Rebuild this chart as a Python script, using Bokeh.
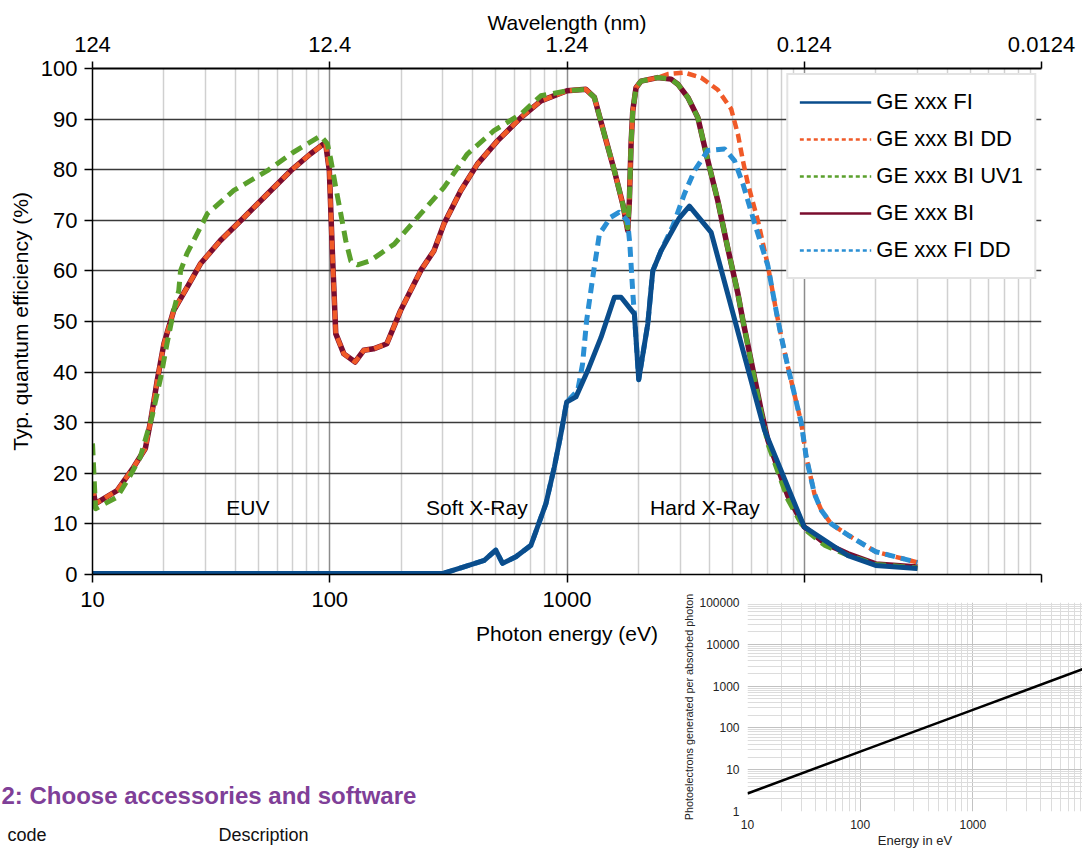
from bokeh.plotting import figure
from bokeh.models import Range1d, FixedTicker, LogAxis, Legend, LegendItem
from bokeh.layouts import column, row
from bokeh.embed import file_html
from bokeh.resources import INLINE
from bokeh.core.properties import value

FONT = "Liberation Sans"

# ---------------- data ----------------
decades = [10, 100, 1000, 10000, 100000]
energy_labels = ["10", "100", "1000", "", ""]
wavelength_labels = ["124", "12.4", "1.24", "0.124", "0.0124"]
qe_ticks = [0, 10, 20, 30, 40, 50, 60, 70, 80, 90, 100]

series_names = ["GE xxx FI", "GE xxx BI DD", "GE xxx BI UV1", "GE xxx BI", "GE xxx FI DD"]

fi_e = [10, 300, 368, 448, 501, 535, 609, 705, 815, 884, 943, 997, 1091, 1223, 1392, 1584,
        1690, 1923, 2006, 2190, 2299, 2493, 2978, 3281, 4051, 6800, 10000, 15200, 20000, 30000]
fi_qe = [0.2, 0.2, 1.5, 2.8, 4.8, 2.2, 3.5, 5.8, 14.0, 21.2, 27.8, 34.1, 35.1, 40.3, 46.9, 54.8,
         54.8, 51.5, 38.5, 49.5, 60.0, 64.0, 70.5, 72.8, 67.6, 28.5, 9.4, 3.8, 1.8, 1.2]

fidd_e = [10, 300, 368, 448, 501, 535, 609, 705, 815, 884, 943, 997, 1110, 1163, 1210, 1284,
          1370, 1530, 1660, 1800, 1840, 1895, 1923, 2006, 2190, 2299, 2493, 2800, 3125, 3444,
          3923, 4610, 5080, 5513, 6170, 7029, 7620, 8000, 8534, 9712, 10195, 11030, 11800,
          13000, 15290, 20000, 30000]
fidd_qe = [0.2, 0.2, 1.5, 2.8, 4.8, 2.2, 3.5, 5.8, 14.0, 21.2, 27.8, 34.1, 36.4, 41.6, 50.2, 58.7,
           67.3, 70.6, 71.6, 69.9, 65.3, 55.5, 51.5, 38.5, 49.5, 60.0, 64.0, 69.0, 75.2, 79.8,
           83.8, 84.1, 81.8, 77.2, 69.5, 61.0, 52.0, 47.0, 41.0, 30.0, 23.2, 16.0, 12.7,
           10.0, 7.8, 4.5, 2.4]

bi_e = [10, 10.3, 12.7, 14.9, 16.7, 17.6, 18.75, 20, 22, 25.5, 28.5, 34.6, 42.1, 54.6, 68.5,
        82.8, 93, 96, 99.6, 102.9, 106, 114.7, 128, 139, 153, 174, 199, 242, 275, 303, 357,
        419, 509, 639, 776, 1000, 1200, 1304, 1437, 1584, 1718, 1803, 1832, 1862, 1893, 1954,
        2051, 2413, 2746, 2932, 3230, 3560, 3923, 4320, 4750, 5253, 5513, 6585, 7029, 8534,
        10000, 12180, 15290, 20000, 30000]
bi_qe = [17.3, 14.0, 16.6, 21.2, 24.9, 30.5, 38.4, 45.6, 52.2, 57.4, 61.4, 66.0, 69.9, 75.2, 79.8,
         83.1, 84.9, 85.3, 79.8, 62.0, 47.6, 43.6, 42.0, 44.3, 44.6, 45.6, 52.2, 60.1, 64.0, 69.3, 75.9,
         81.1, 85.7, 90.3, 93.6, 95.6, 95.9, 94.3, 87.0, 79.8, 73.2, 68.0, 73.9, 85.0, 91.6, 96.2,
         97.5, 98.2, 97.9, 96.9, 94.3, 90.3, 81.8, 73.9, 64.7, 55.5, 50.2, 32.4, 26.5, 15.5,
         9.4, 6.2, 4.1, 2.1, 1.5]

bidd_e = [10, 10.3, 12.7, 14.9, 16.7, 17.6, 18.75, 20, 22, 25.5, 28.5, 34.6, 42.1, 54.6, 68.5,
          82.8, 93, 96, 99.6, 102.9, 106, 114.7, 128, 139, 153, 174, 199, 242, 275, 303, 357,
          419, 509, 639, 776, 1000, 1200, 1304, 1437, 1584, 1718, 1803, 1832, 1862, 1893, 1954,
          2051, 2413, 2660, 3125, 3677, 4320, 4920, 5253, 5513, 5787, 6378, 7029, 7620, 8000,
          8534, 9712, 10195, 11030, 11800, 13000, 15290, 20000, 30000]
bidd_qe = [17.3, 14.0, 16.6, 21.2, 24.9, 30.5, 38.4, 45.6, 52.2, 57.4, 61.4, 66.0, 69.9, 75.2, 79.8,
           83.1, 84.9, 85.3, 79.8, 62.0, 47.6, 43.6, 42.0, 44.3, 44.6, 45.6, 52.2, 60.1, 64.0, 69.3, 75.9,
           81.1, 85.7, 90.3, 93.6, 95.6, 95.9, 94.3, 87.0, 79.8, 73.2, 68.0, 73.9, 85.0, 91.6, 96.2,
           97.5, 98.2, 98.9, 99.2, 98.2, 95.8, 92.0, 87.0, 81.8, 77.2, 69.9, 61.0, 52.0, 47.0,
           41.0, 30.0, 23.2, 16.0, 12.7, 10.0, 7.8, 4.5, 2.4]

uv1_e = [10, 10.3, 12.7, 14.2, 15.9, 17.8, 19.4, 20.6, 22, 23.1, 23.5, 25, 30.5, 39.4, 54.6, 70,
         91.6, 97.8, 101, 106, 111.3, 116.8, 122.7, 131, 148, 187, 242, 303, 380, 492, 639, 776,
         1000, 1200, 1304, 1437, 1584, 1718, 1803, 1832, 1862, 1893, 1954, 2051, 2413, 2746,
         2932, 3230, 3560, 3923, 4320, 4750, 5253, 5513, 6585, 7029, 8534, 10000, 12180, 15290,
         20000, 30000]
uv1_qe = [25.9, 13.0, 15.3, 19.0, 23.2, 31.1, 39.0, 45.6, 52.2, 56.1, 60.0, 63.4, 71.3, 75.9, 79.8, 83.4,
          86.7, 85.1, 82.0, 76.5, 71.3, 66.0, 62.0, 61.2, 62.0, 65.3, 71.3, 76.5, 83.1, 87.7, 91.0, 94.6,
          95.6, 95.9, 94.3, 87.0, 79.8, 73.2, 68.5, 73.9, 85.0, 91.6, 96.2, 97.5, 98.2, 97.9,
          96.9, 94.3, 90.3, 81.8, 73.9, 64.7, 55.5, 50.2, 32.0, 25.8, 14.8, 9.0, 5.8, 3.8,
          2.0, 1.3]

region_names = ["EUV", "Soft X-Ray", "Hard X-Ray"]
region_e = [45.2, 417, 3814]
region_qe = [13.3, 13.3, 13.3]

inset_ticks_x = [10, 100, 1000, 10000]
inset_ticks_y = [1, 10, 100, 1000, 10000, 100000]
inset_energy = [10, 100, 1000, 10000]
inset_electrons = [2.7, 27, 270, 2700]

heading = "2: Choose accessories and software"
col_headers = ["code", "Description"]

# ---------------- styles ----------------
C_FI = "#0a4d8c"
C_BIDD = "#f05a28"
C_UV1 = "#5aa02c"
C_BI = "#7a0c2e"
C_FIDD = "#2a8fd4"

# ---------------- main chart ----------------
p = figure(width=1082, height=653, x_axis_type="log",
           x_range=Range1d(10, 100000), y_range=Range1d(0, 100),
           output_backend="svg", toolbar_location=None,
           min_border_left=92, min_border_right=41, min_border_top=68, min_border_bottom=79)
p.outline_line_color = None
p.background_fill_color = "white"
p.border_fill_color = "white"

minor_main = [m * d for d in decades[:-1] for m in range(2, 10)]

bx = p.xaxis[0]
bx.ticker = FixedTicker(ticks=decades, minor_ticks=minor_main)
bx.major_label_overrides = dict(zip(decades, energy_labels))
bx.axis_label = "Photon energy (eV)"

ly = p.yaxis[0]
ly.ticker = FixedTicker(ticks=qe_ticks)
ly.axis_label = "Typ. quantum efficiency (%)"

top = LogAxis(ticker=FixedTicker(ticks=decades),
              major_label_overrides=dict(zip(decades, wavelength_labels)),
              axis_label="Wavelength (nm)")
p.add_layout(top, "above")

for ax in (bx, ly, top):
    ax.axis_line_color = "black"
    ax.axis_line_width = 1.5
    ax.major_tick_line_color = "black"
    ax.major_tick_line_width = 1.5
    ax.major_tick_out = 8
    ax.major_tick_in = 0
    ax.minor_tick_line_color = None
    ax.major_label_text_font = FONT
    ax.major_label_text_font_size = "22px"
    ax.major_label_text_color = "black"
    ax.axis_label_text_font = FONT
    ax.axis_label_text_font_size = "21px"
    ax.axis_label_text_font_style = "normal"
    ax.axis_label_text_color = "black"
top.axis_line_width = 2.2
top.major_tick_out = 7
top.major_label_standoff = 10
top.axis_label_standoff = 0
ly.major_label_standoff = 7
ly.axis_label_standoff = 6
bx.major_label_standoff = 9
bx.axis_label_standoff = 12

p.xgrid.ticker = FixedTicker(ticks=decades, minor_ticks=minor_main)
p.xgrid.grid_line_color = "#8c8c8c"
p.xgrid.grid_line_width = 1.5
p.xgrid.minor_grid_line_color = "#d0d0d0"
p.xgrid.minor_grid_line_width = 1.5
p.ygrid.ticker = FixedTicker(ticks=qe_ticks)
p.ygrid.grid_line_color = "#3a3a3a"
p.ygrid.grid_line_width = 1.3

common = dict(line_join="round")
p.line(bi_e, bi_qe, line_color=C_BI, line_width=5.5, **common)
p.line(bidd_e, bidd_qe, line_color=C_BIDD, line_width=4.5, line_dash="9 5", **common)
p.line(uv1_e, uv1_qe, line_color=C_UV1, line_width=5, line_dash="12 7", **common)
p.line(fidd_e, fidd_qe, line_color=C_FIDD, line_width=5, line_dash="10 6", **common)
p.line(fi_e, fi_qe, line_color=C_FI, line_width=5, **common)

p.text(x=region_e, y=region_qe, text=region_names, text_font=value(FONT),
       text_font_size="21px", text_align="center", text_baseline="middle", text_color="black")

# legend with thin sample lines (stand-in renderers placed outside the visible range)
legend_styles = [(C_FI, "solid"), (C_BIDD, "4 3"), (C_UV1, "4 3"), (C_BI, "solid"), (C_FIDD, "4 3")]
items = []
for name, (col, dash) in zip(series_names, legend_styles):
    r = p.line([1, 2], [-50, -50], line_color=col, line_width=2.6, line_dash=dash)
    items.append(LegendItem(label=name, renderers=[r]))
legend = Legend(items=items, location="top_right")
legend.label_text_font = FONT
legend.label_text_font_size = "22px"
legend.label_text_color = "black"
legend.glyph_width = 72
legend.glyph_height = 32
legend.label_height = 32
legend.label_standoff = 5
legend.spacing = 5
legend.padding = 11
legend.margin = 5
legend.border_line_color = "#c8c8c8"
legend.border_line_width = 2
legend.background_fill_color = "white"
legend.background_fill_alpha = 1.0
p.add_layout(legend)

# ---------------- page text below the chart ----------------
bl = figure(width=680, height=197, x_range=Range1d(0, 680), y_range=Range1d(197, 0),
            output_backend="svg", toolbar_location=None,
            x_axis_location=None, y_axis_location=None, min_border=0)
bl.grid.visible = False
bl.outline_line_color = None
bl.text(x=[1], y=[142], text=[heading], text_font=value(FONT), text_font_size="24px",
        text_font_style="bold", text_color="#7f3f98", text_baseline="middle")
bl.text(x=[7, 218], y=[181, 181], text=col_headers, text_font=value(FONT),
        text_font_size="18px", text_color="#111111", text_baseline="middle")

# ---------------- inset chart ----------------
ins = figure(width=402, height=260, x_axis_type="log", y_axis_type="log",
             x_range=Range1d(10, 9400), y_range=Range1d(1, 100000),
             output_backend="svg", toolbar_location=None,
             min_border_left=63, min_border_top=12, min_border_right=0, min_border_bottom=22)
ins.outline_line_color = None
ins.background_fill_color = "white"
ins.border_fill_color = "white"
minor_ix = [m * d for d in inset_ticks_x for m in range(2, 10)]
minor_iy = [m * d for d in inset_ticks_y[:-1] for m in range(2, 10)]
ix = ins.xaxis[0]
ix.ticker = FixedTicker(ticks=inset_ticks_x, minor_ticks=minor_ix)
ix.major_label_overrides = {t: str(t) for t in inset_ticks_x}
ix.axis_label = "Energy in eV"
iy = ins.yaxis[0]
iy.ticker = FixedTicker(ticks=inset_ticks_y, minor_ticks=minor_iy)
iy.major_label_overrides = {t: str(t) for t in inset_ticks_y}
iy.axis_label = "Photoelectrons generated per absorbed photon"
for ax in (ix, iy):
    ax.axis_line_color = None
    ax.major_tick_line_color = None
    ax.minor_tick_line_color = None
    ax.major_label_text_font = FONT
    ax.major_label_text_font_size = "12px"
    ax.major_label_text_color = "#222222"
    ax.axis_label_text_font = FONT
    ax.axis_label_text_font_style = "normal"
    ax.axis_label_text_color = "#222222"
    ax.major_label_standoff = 2
    ax.axis_label_standoff = 1
ix.axis_label_text_font_size = "13px"
iy.axis_label_text_font_size = "10.8px"
ins.xgrid.ticker = FixedTicker(ticks=inset_ticks_x, minor_ticks=minor_ix)
ins.ygrid.ticker = FixedTicker(ticks=inset_ticks_y, minor_ticks=minor_iy)
for g in (ins.xgrid, ins.ygrid):
    g.grid_line_color = "#c2c2c2"
    g.grid_line_width = 1
    g.minor_grid_line_color = "#dcdcdc"
    g.minor_grid_line_width = 1
ins.line(inset_energy, inset_electrons, line_color="black", line_width=2.5)

layout = column(p,
                row(bl),
                row(ins, margin=(-260, 0, 0, 680)))
open("out.html", "w").write(file_html(layout, INLINE))
